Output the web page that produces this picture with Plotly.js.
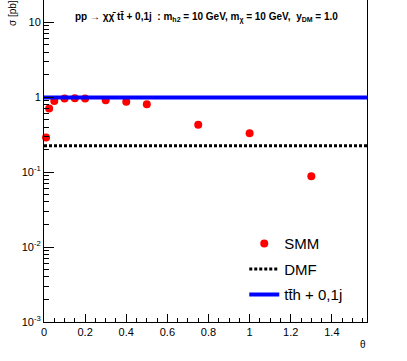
<!DOCTYPE html>
<html>
<head>
<meta charset="utf-8">
<script src="https://cdn.plot.ly/plotly-3.0.1.min.js"></script>
<style>html,body{margin:0;padding:0;background:#fff;}#c{width:407px;height:361px;}</style>
</head>
<body>
<div id="c"></div>
<script>
// Data
const smmTheta = [0.01, 0.025, 0.05, 0.1, 0.15, 0.2, 0.3, 0.4, 0.5, 0.75, 1.0, 1.3];
const smmSigma = [0.29, 0.71, 0.89, 0.96, 0.97, 0.96, 0.91, 0.87, 0.81, 0.43, 0.33, 0.088];
const lineTheta = [0, 1.5708];
const dmfSigma = [0.225, 0.225];
const tthSigma = [0.99, 0.99];
const yTickVals = [0.001, 0.01, 0.1, 1, 10];
const yTickText = ['10<sup>-3</sup>', '10<sup>-2</sup>', '10<sup>-1</sup>', '1', '10'];
const xTickVals = [0, 0.2, 0.4, 0.6, 0.8, 1, 1.2, 1.4];
const xTickText = ['0', '0.2', '0.4', '0.6', '0.8', '1', '1.2', '1.4'];

const font = 'Liberation Sans, Arial, Helvetica, sans-serif';

const traces = [
  {x: smmTheta, y: smmSigma, type: 'scatter', mode: 'markers', name: 'SMM',
   marker: {color: '#ff0000', size: 8}, legendgroup: 'a', cliponaxis: false},
  {x: lineTheta, y: dmfSigma, type: 'scatter', mode: 'lines', name: 'DMF',
   line: {color: '#000000', width: 3, dash: '3px,2px'}, legendgroup: 'b'},
  {x: lineTheta, y: tthSigma, type: 'scatter', mode: 'lines', name: 'tt\u0304h + 0,1j',
   line: {color: '#0000ff', width: 4}, legendgroup: 'c'}
];

const layout = {
  width: 407, height: 361,
  margin: {l: 44, r: 40, t: 0, b: 39},
  paper_bgcolor: '#fff', plot_bgcolor: '#fff',
  font: {family: font, color: '#000', size: 11},
  showlegend: true,
  legend: {x: 0.62, y: 0.294, xanchor: 'left', yanchor: 'top', font: {size: 15, family: font},
           bgcolor: 'rgba(0,0,0,0)', tracegroupgap: 3, itemwidth: 30},
  xaxis: {range: [0, 1.5708], showline: true, linecolor: '#000', linewidth: 1,
          tickmode: 'array', tickvals: xTickVals, ticktext: xTickText,
          ticks: 'inside', ticklen: 8, tickcolor: '#000', showgrid: false, zeroline: false,
          minor: {dtick: 0.05, ticks: 'inside', ticklen: 4, tickcolor: '#000', showgrid: false},
          tickfont: {size: 11}},
  yaxis: {type: 'log', range: [-3, 1.2985], showline: true, linecolor: '#000', linewidth: 1,
          mirror: true, tickmode: 'array', tickvals: yTickVals, ticktext: yTickText,
          ticks: 'inside', ticklen: 10, tickcolor: '#000', showgrid: false, zeroline: false,
          minor: {dtick: 'D1', ticks: 'inside', ticklen: 5, tickcolor: '#000', showgrid: false},
          tickfont: {size: 11}},
  annotations: [
    {text: '<b>pp \u2192 \u03c7\u03c7\u0304 tt\u0304 + 0,1j  : m<sub>h2</sub> = 10 GeV, m<sub>\u03c7</sub> = 10 GeV,  y<sub>DM</sub> = 1.0</b>',
     xref: 'paper', yref: 'paper', x: 0.0899, y: 1, yshift: -17, xanchor: 'left', yanchor: 'middle',
     showarrow: false, font: {size: 10, family: font}},
    {text: '\u03c3 [pb]', xref: 'paper', yref: 'paper', x: 0, xshift: -32, y: 1, yshift: -13,
     textangle: -90, xanchor: 'center', yanchor: 'middle', showarrow: false, font: {size: 10, family: font}},
    {text: '\u03b8', xref: 'paper', yref: 'paper', x: 1, xshift: -4, y: 0, yshift: -22,
     xanchor: 'center', yanchor: 'middle', showarrow: false, font: {size: 10, family: font}}
  ]
};

Plotly.newPlot('c', traces, layout, {displayModeBar: false, staticPlot: true});
</script>
</body>
</html>
